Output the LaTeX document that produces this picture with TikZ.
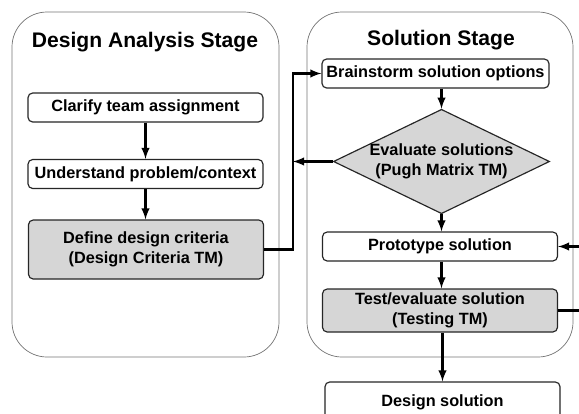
\documentclass[tikz,border=0pt]{standalone}
\usepackage{fontspec}
\setmainfont{Liberation Sans}
\usetikzlibrary{arrows, shapes.geometric}

\begin{document}
\begin{tikzpicture}[
            x = 0.03cm, y = -0.03cm, % one unit is one pixel of the layout
            > = latex, % arrow head style
            font = \bfseries\fontsize{13.9}{16.8}\selectfont,
            stage/.style = {draw = black!55, line width = 0.6pt, rounded corners = 1.05cm},
            title/.style = {font = \bfseries\fontsize{18}{21}\selectfont},
            step box/.style = {draw = black!85, line width = 1pt, rounded corners = 4pt,
                fill = white, minimum width = 7.05cm, minimum height = 0.87cm,
                align = center, inner sep = 2pt},
            tm box/.style = {step box, fill = black!16},
            flow/.style = {->, line width = 2.2pt}
        ]

        \useasboundingbox (0,0) rectangle (579,414);

        % the two stages
        \draw[stage] (12,12) rectangle (279,357);
        \draw[stage] (307,12) rectangle (573,357);
        \node[title] (analysis) at (145,42) {Design Analysis Stage};
        \node[title] (solution) at (441,40) {Solution Stage};

        % design analysis stage
        \node[step box] (clarify) at (145.5,107.5) {Clarify team assignment};
        \node[step box] (understand) at (145.5,174) {Understand problem/context};
        \node[tm box, minimum height = 1.77cm] (criteria) at (146,249.5)
            {Define design criteria\\(Design Criteria TM)};

        % solution stage
        \node[step box, minimum width = 6.81cm] (brainstorm) at (435.5,73.5)
            {Brainstorm solution options};
        \node[diamond, aspect = 2.07, draw = black!85, line width = 1pt, fill = black!16,
            minimum width = 6.39cm, minimum height = 3.09cm, inner sep = 0pt,
            align = center] (evaluate) at (441.5,161.5)
            {Evaluate solutions\\(Pugh Matrix TM)};
        \node[step box] (prototype) at (440,246.5) {Prototype solution};
        \node[tm box, minimum height = 1.29cm] (testing) at (440,310.5)
            {Test/evaluate solution\\(Testing TM)};
        \node[step box, minimum height = 1.2cm] (design) at (442.5,402) {Design solution};

        \coordinate (bus) at (293,0);
        \coordinate (loop) at (586,0);

        \draw[flow] (clarify) -- (understand);
        \draw[flow] (understand.south) -- (understand.south |- criteria.north);
        \draw[flow] (criteria.east) -| (bus |- brainstorm.west) -- (brainstorm.west);
        \draw[flow] (brainstorm.south -| evaluate.north) -- (evaluate.north);
        \draw[flow] (evaluate.west) -- (bus |- evaluate.west);
        \draw[flow] (evaluate.south) -- (evaluate.south |- prototype.north);
        \draw[flow] (prototype.south -| evaluate.south) -- (testing.north -| evaluate.south);
        \draw[flow] (testing.south -| design.north) -- (design.north);
        \draw[flow] (testing.east) -| (loop |- prototype.east) -- (prototype.east);

    \end{tikzpicture}
\end{document}
